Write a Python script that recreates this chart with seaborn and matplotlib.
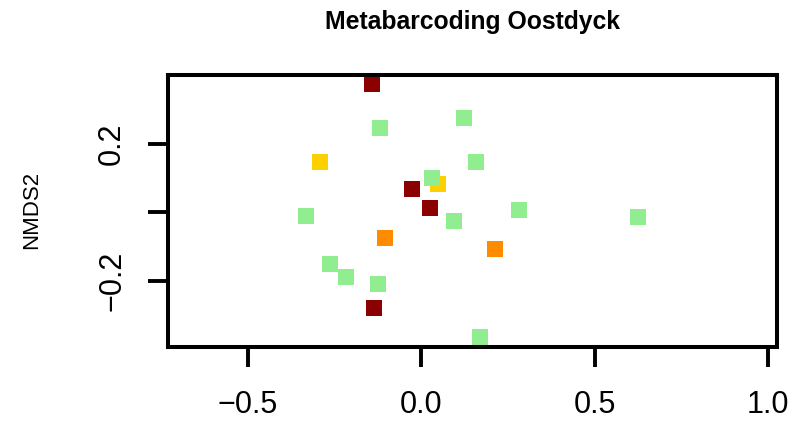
import matplotlib
matplotlib.use("Agg")
import matplotlib.pyplot as plt
import seaborn as sns
import pandas as pd

# NMDS site scores, grouped by sampling category
nmds1 = [-0.141, -0.025, 0.025, -0.137,
         -0.292, 0.049,
         -0.104, 0.214,
         -0.118, 0.124, 0.158, 0.032, -0.332, 0.094, 0.281, 0.626,
         -0.262, -0.217, -0.124, 0.169]
nmds2 = [0.3735, 0.069, 0.0125, -0.279,
         0.147, 0.083,
         -0.075, -0.106,
         0.245, 0.2745, 0.146, 0.099, -0.012, -0.025, 0.008, -0.013,
         -0.149, -0.187, -0.208, -0.364]
group = ["A"] * 4 + ["B"] * 2 + ["C"] * 2 + ["D"] * 12

palette = {"A": "#8B0000", "B": "#FFD000", "C": "#FF8C00", "D": "#90EE90"}

xticks = [-0.5, 0.0, 0.5, 1.0]
xticklabels = ["\u22120.5", "0.0", "0.5", "1.0"]
yticks = [-0.2, 0.0, 0.2]
yticklabels = ["\u22120.2", "", "0.2"]

df = pd.DataFrame({"NMDS1": nmds1, "NMDS2": nmds2, "group": group})

sns.set_style("white")
plt.rcParams["font.family"] = ["Liberation Sans", "DejaVu Sans"]
plt.rcParams.update({"text.color": "black", "axes.labelcolor": "black",
                     "xtick.color": "black", "ytick.color": "black"})

fig = plt.figure(figsize=(7.94, 4.34), dpi=100)
ax = fig.add_axes([168 / 794, 1 - 346.7 / 434, (776.8 - 168) / 794, (346.7 - 74.5) / 434])

sns.scatterplot(data=df, x="NMDS1", y="NMDS2", hue="group", palette=palette,
                marker="s", s=132, linewidth=0, legend=False, ax=ax)

ax.set_xlim(-0.7292, 1.025)
ax.set_ylim(-0.391, 0.401)

ax.set_xticks(xticks)
ax.set_xticklabels(xticklabels, fontsize=22)
ax.set_yticks(yticks)
ax.set_yticklabels(yticklabels, fontsize=22, rotation=90, va="center")

ax.tick_params(axis="both", direction="out", length=14.4, width=2.8, color="black",
               labelcolor="black", bottom=True, left=True)
ax.tick_params(axis="x", pad=17)
ax.tick_params(axis="y", pad=15)

for sp in ax.spines.values():
    sp.set_visible(True)
    sp.set_color("black")
    sp.set_linewidth(2.9)

ax.set_xlabel("")
ax.set_ylabel("NMDS2", fontsize=16, color="black")
ax.yaxis.label.set_va("center")
ax.yaxis.set_label_coords(32 / 794, 1 - 210.35 / 434, transform=fig.transFigure)

fig.text((168 + 776.8) / 2 / 794, 1 - 29 / 434, "Metabarcoding Oostdyck",
         ha="center", va="baseline", fontsize=17.8, fontweight="bold", color="black")

fig.savefig("out.png", dpi=100, facecolor="white")
